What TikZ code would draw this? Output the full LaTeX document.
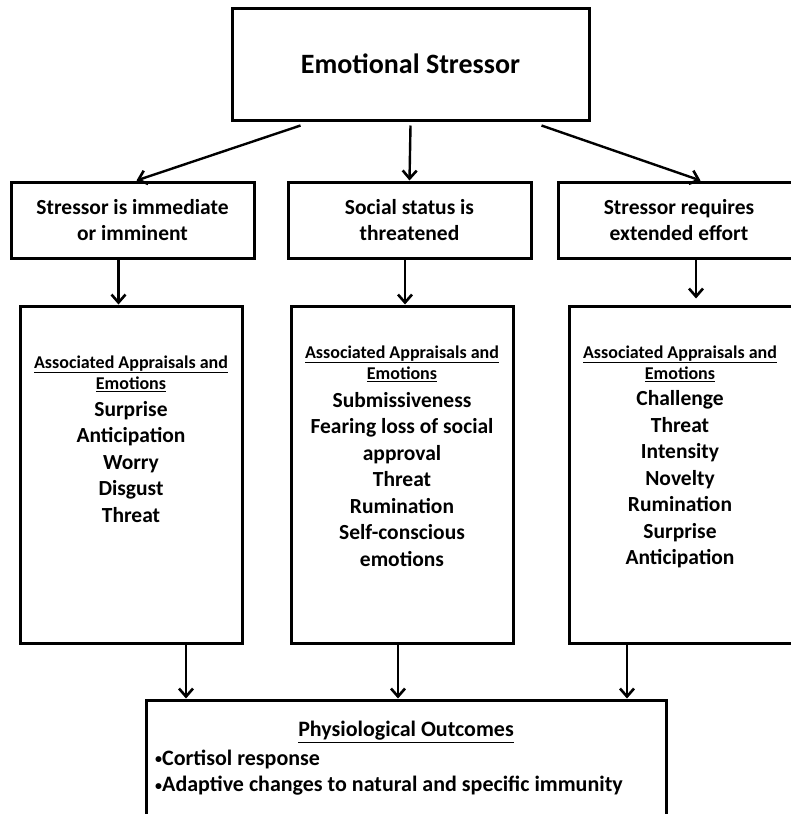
\documentclass[tikz,border=0pt]{standalone}
\usepackage{fontspec}
\setmainfont{Carlito}
\usetikzlibrary{arrows.meta,calc}
\newcommand{\sbul}{{\fontsize{14}{14}\selectfont\raisebox{1.5pt}{•}}}
\begin{document}
\begin{tikzpicture}[x=1pt,y=-1pt,
  box/.style={draw,line width=3pt,rectangle,inner sep=0pt},
  arr/.style={line width=2.4pt,-{Straight Barb[length=8pt,width=14pt,line width=2.6pt]}},
  lbl/.style={font=\fontsize{21.5}{26.5}\selectfont\bfseries,align=center,inner sep=0pt},
  hd/.style={font=\fontsize{18}{21}\selectfont\bfseries,align=center,inner sep=0pt},
  outl/.style={font=\fontsize{22}{27}\selectfont\bfseries,align=center,inner sep=0pt}]
\useasboundingbox[fill=white] (0,0) rectangle (790,814);
% boxes
\node[box,minimum width=357pt,minimum height=112pt,font=\fontsize{28}{32}\selectfont\bfseries] (top) at (410.5,64) {Emotional Stressor};
\node[box,minimum width=243pt,minimum height=76pt] (s1) at (132.5,220) {};
\node[box,minimum width=243pt,minimum height=76pt] (s2) at (409.5,220) {};
\node[box,minimum width=237pt,minimum height=76pt] (s3) at (676.5,220) {};
\node[lbl] (s1t) at (132.5,220) {Stressor is immediate\\or imminent};
\node[lbl] (s2t) at (409.5,220) {Social status is\\threatened};
\node[lbl] (s3t) at (679,220) {Stressor requires\\extended effort};
\node[box,minimum width=222pt,minimum height=337pt] (a1) at (131,474.5) {};
\node[box,minimum width=222pt,minimum height=337pt] (a2) at (402,474.5) {};
\node[box,minimum width=226pt,minimum height=337pt] (a3) at (682,474.5) {};
\node[hd] (a1h) at (131,373.5) {\underline{Associated Appraisals and}\\\underline{Emotions}};
\node[hd] (a2h) at (402,363.5) {\underline{Associated Appraisals and}\\\underline{Emotions}};
\node[hd] (a3h) at (680,363.5) {\underline{Associated Appraisals and}\\\underline{Emotions}};
\node[lbl] (a1t) at (131,462) {Surprise\\Anticipation\\Worry\\Disgust\\Threat};
\node[lbl] (a2t) at (402,479.5) {Submissiveness\\Fearing loss of social\\approval\\Threat\\Rumination\\Self-conscious\\emotions};
\node[lbl] (a3t) at (680,479.5) {Challenge\\Threat\\Intensity\\Novelty\\Rumination\\Surprise\\Anticipation};
\node[box,minimum width=520pt,minimum height=130pt] (out) at (406,765) {};
\node[outl] (outh) at (406,732) {\underline{Physiological Outcomes}};
\node[outl,anchor=west] (o1) at (155,759) {\sbul Cortisol response};
\node[outl,anchor=west] (o2) at (155,786) {\sbul Adaptive changes to natural and specific immunity};
% connectors
\draw[arr] ([xshift=-110pt,yshift=-4pt]top.south) -- ([xshift=4pt]s1.north);
\draw[arr] ([yshift=-4pt]top.south) -- (s2.north);
\draw[arr] ([xshift=131pt,yshift=-4pt]top.south) -- ([xshift=24pt]s3.north);
\draw[arr] ([xshift=-14pt]s1.south) -- ([xshift=-14pt]s1.south |- a1.north);
\draw[arr] ([xshift=-4.5pt]s2.south) -- ([xshift=-4.5pt]s2.south |- a2.north);
\draw[arr] ([xshift=19.5pt]s3.south) -- ([xshift=19.5pt,yshift=6pt]s3.south |- a3.north);
\draw[arr] ([xshift=55pt]a1.south) -- ([xshift=55pt]a1.south |- out.north);
\draw[arr] ([xshift=-4pt]a2.south) -- ([xshift=-4pt]a2.south |- out.north);
\draw[arr] ([xshift=-55pt]a3.south) -- ([xshift=-55pt]a3.south |- out.north);
\end{tikzpicture}
\end{document}
